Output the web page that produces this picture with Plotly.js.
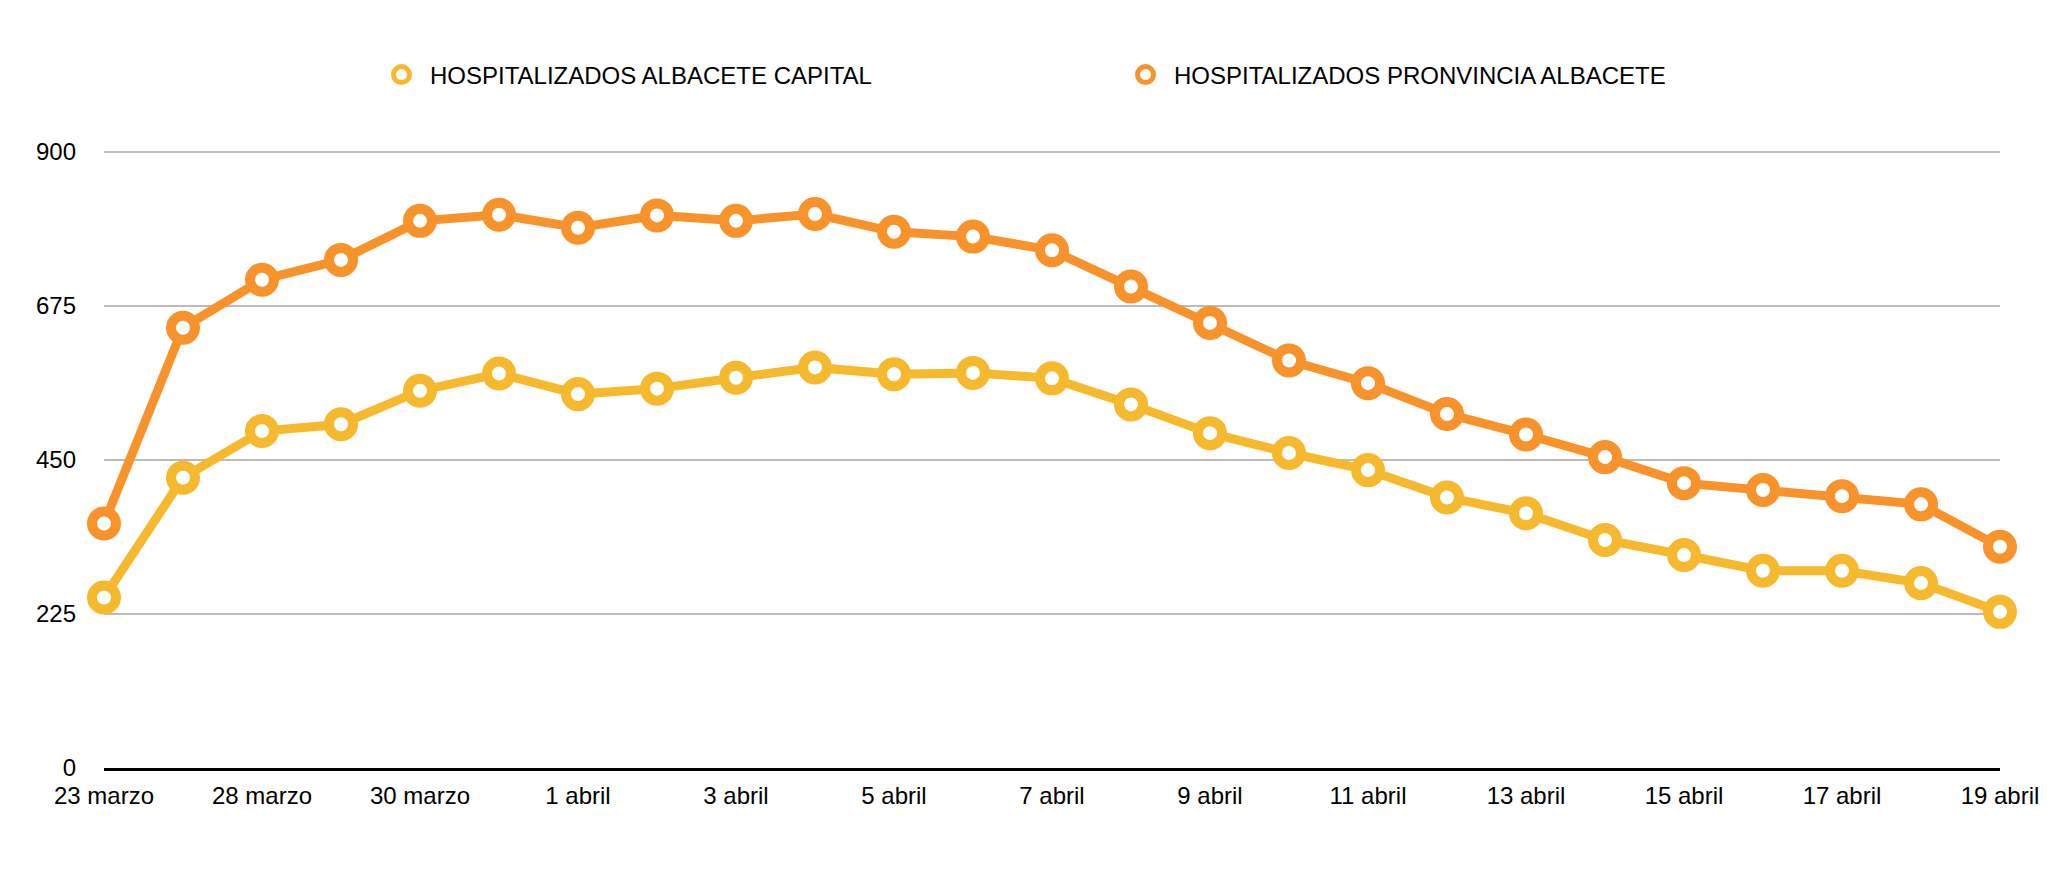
<!DOCTYPE html>
<html>
<head>
<meta charset="utf-8">
<script src="https://cdn.plot.ly/plotly-3.0.1.min.js"></script>
<style>
  html, body { margin: 0; padding: 0; background: #fff; }
  #chart { width: 2062px; height: 870px; }
</style>
</head>
<body>
<div id="chart"></div>
<script>
// Categories (one point per day; only every other label is shown)
var categories = [
  "23 marzo", "27 marzo", "28 marzo", "29 marzo", "30 marzo", "31 marzo",
  "1 abril", "2 abril", "3 abril", "4 abril", "5 abril", "6 abril",
  "7 abril", "8 abril", "9 abril", "10 abril", "11 abril", "12 abril",
  "13 abril", "14 abril", "15 abril", "16 abril", "17 abril", "18 abril",
  "19 abril"
];
var tickLabels = [
  "23 marzo", "28 marzo", "30 marzo", "1 abril", "3 abril", "5 abril",
  "7 abril", "9 abril", "11 abril", "13 abril", "15 abril", "17 abril",
  "19 abril"
];
var yTicks = [0, 225, 450, 675, 900];

var seriesNames = ["HOSPITALIZADOS ALBACETE CAPITAL", "HOSPITALIZADOS PRONVINCIA ALBACETE"];

var capital = [
  249, 424, 492, 502, 551, 576, 546, 554, 570, 585, 575, 577,
  569, 531, 489, 460, 435, 395, 372, 333, 311, 288, 288, 270, 228
];
var provincia = [
  357, 643, 713, 742, 799, 808, 789, 807, 799, 809, 783, 776,
  756, 703, 650, 595, 562, 517, 487, 454, 416, 406, 397, 385, 323
];

var colors = ["#F6B92E", "#F7932A"];
var allSeries = [capital, provincia];

var traces = [];
allSeries.forEach(function (vals, i) {
  traces.push({
    type: "scatter", mode: "lines", x: categories, y: vals,
    name: seriesNames[i], showlegend: false, hoverinfo: "skip",
    line: { color: colors[i], width: 9 }, cliponaxis: false
  });
  traces.push({
    type: "scatter", mode: "markers", x: categories, y: vals,
    name: seriesNames[i], showlegend: true,
    marker: { symbol: "circle", size: 24, color: "#ffffff",
              line: { color: colors[i], width: 10 } },
    cliponaxis: false
  });
});

var layout = {
  width: 2062, height: 870,
  paper_bgcolor: "#ffffff", plot_bgcolor: "#ffffff",
  font: { family: "Liberation Sans, Arial, Helvetica, sans-serif", size: 24, color: "#000" },
  margin: { l: 104, r: 62, t: 148, b: 102, pad: 0 },
  showlegend: true,
  legend: {
    orientation: "h", xref: "container", yref: "container",
    x: 373 / 2062, xanchor: "left", y: 1 - 75 / 870, yanchor: "middle",
    itemwidth: 47,
    entrywidth: 682, entrywidthmode: "pixels",
    font: { size: 24, color: "#000" }, bgcolor: "rgba(0,0,0,0)"
  },
  xaxis: {
    type: "category", range: [0, categories.length - 1],
    tickmode: "array", tickvals: tickLabels, ticktext: tickLabels,
    showgrid: false, zeroline: false,
    showline: true, linecolor: "#000000", linewidth: 3,
    ticks: "", ticklabelstandoff: 4,
    tickfont: { size: 24, color: "#000" }, fixedrange: true
  },
  yaxis: {
    range: [0, 905.4], tickmode: "array", tickvals: yTicks,
    showgrid: true, gridcolor: "#BBBBBB", gridwidth: 2,
    zeroline: false, showline: false, ticks: "",
    ticklabelstandoff: 27,
    tickfont: { size: 24, color: "#000" }, fixedrange: true
  },
  hovermode: false
};

Plotly.newPlot("chart", traces, layout, { displayModeBar: false, staticPlot: true });
</script>
</body>
</html>
